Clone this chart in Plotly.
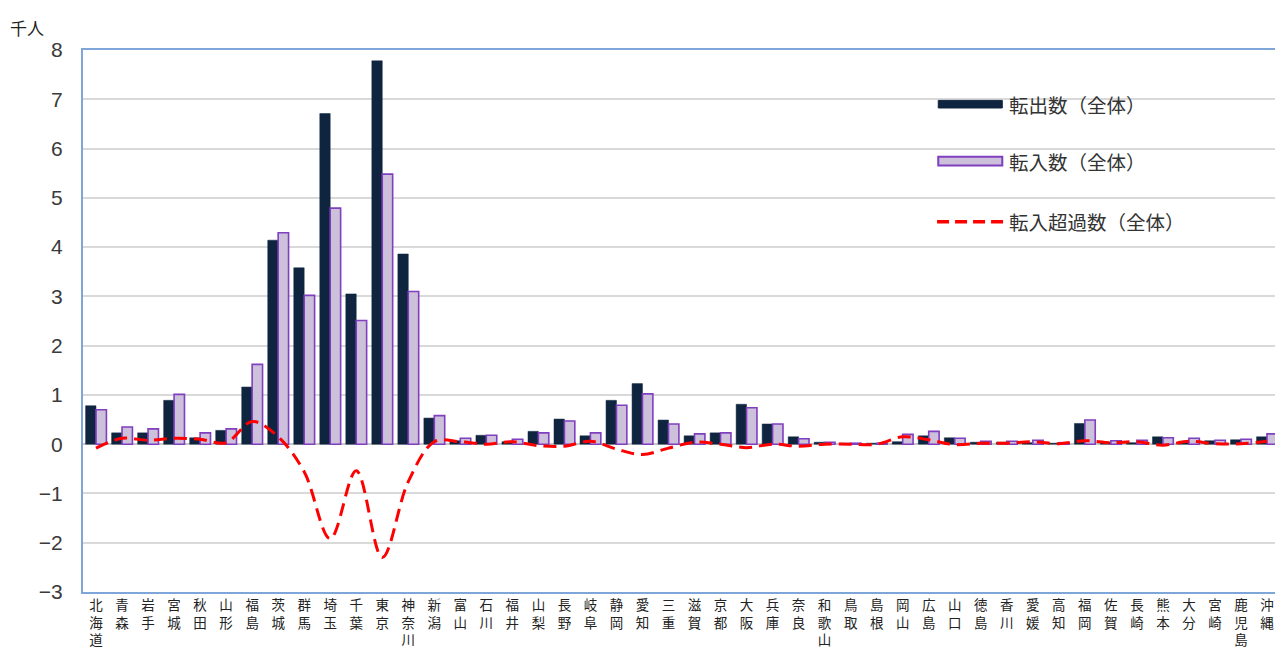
import plotly.graph_objects as go

# prefectures (栃木 excluded), values in thousand persons
prefs = [
    "北海道", "青森", "岩手", "宮城", "秋田", "山形", "福島", "茨城", "群馬", "埼玉",
    "千葉", "東京", "神奈川", "新潟", "富山", "石川", "福井", "山梨", "長野", "岐阜",
    "静岡", "愛知", "三重", "滋賀", "京都", "大阪", "兵庫", "奈良", "和歌山", "鳥取",
    "島根", "岡山", "広島", "山口", "徳島", "香川", "愛媛", "高知", "福岡", "佐賀",
    "長崎", "熊本", "大分", "宮崎", "鹿児島", "沖縄",
]
moved_out = [
    0.78, 0.23, 0.23, 0.89, 0.13, 0.28, 1.16, 4.14, 3.58, 6.71,
    3.05, 7.78, 3.86, 0.53, 0.07, 0.18, 0.05, 0.26, 0.51, 0.17,
    0.89, 1.23, 0.49, 0.17, 0.23, 0.81, 0.41, 0.15, 0.04, 0.02,
    0.02, 0.05, 0.17, 0.13, 0.04, 0.04, 0.03, 0.02, 0.42, 0.04,
    0.03, 0.15, 0.06, 0.07, 0.09, 0.15,
]
moved_in = [
    0.70, 0.35, 0.31, 1.01, 0.23, 0.31, 1.62, 4.29, 3.02, 4.79,
    2.51, 5.48, 3.10, 0.58, 0.12, 0.18, 0.10, 0.23, 0.47, 0.23,
    0.79, 1.02, 0.41, 0.21, 0.23, 0.74, 0.41, 0.11, 0.04, 0.02,
    0.02, 0.20, 0.26, 0.12, 0.06, 0.06, 0.08, 0.03, 0.49, 0.07,
    0.08, 0.13, 0.12, 0.08, 0.10, 0.21,
]
net_in = [
    -0.08, 0.12, 0.08, 0.12, 0.10, 0.03, 0.46, 0.15, -0.56, -1.92,
    -0.54, -2.30, -0.76, 0.05, 0.05, 0.00, 0.05, -0.03, -0.04, 0.06,
    -0.10, -0.21, -0.08, 0.04, 0.00, -0.07, 0.00, -0.04, 0.00, 0.00,
    0.00, 0.15, 0.09, -0.01, 0.02, 0.02, 0.05, 0.01, 0.07, 0.03,
    0.05, -0.02, 0.06, 0.01, 0.01, 0.06,
]
tick_text = ["<br>".join(p) for p in prefs]

NAVY = "#0F243E"
LAV = "#CCC0DA"
PURPLE = "#7F3FBF"
RED = "#FF0000"
FONT = "Noto Sans CJK JP"

fig = go.Figure()
fig.add_trace(go.Bar(x=prefs, y=moved_out, name="転出数（全体）",
                     marker=dict(color=NAVY, line=dict(color=NAVY, width=0.5))))
fig.add_trace(go.Bar(x=prefs, y=moved_in, name="転入数（全体）",
                     marker=dict(color=LAV, line=dict(color=PURPLE, width=1.6))))
fig.add_trace(go.Scatter(x=prefs, y=net_in, name="転入超過数（全体）", mode="lines",
                         line=dict(color=RED, width=3, dash="13px,7px",
                                   shape="spline", smoothing=1)))

# legend drawn by hand to get the long Excel-style keys
legend_items = [
    ("転出数（全体）", 0.900),
    ("転入数（全体）", 0.795),
    ("転入超過数（全体）", 0.683),
]
x0, x1 = 0.7145, 0.768
fig.add_shape(type="rect", xref="paper", yref="paper", x0=x0, x1=x1,
              y0=legend_items[0][1] - 0.007, y1=legend_items[0][1] + 0.007,
              fillcolor=NAVY, line=dict(color=NAVY, width=1))
fig.add_shape(type="rect", xref="paper", yref="paper", x0=x0, x1=x1,
              y0=legend_items[1][1] - 0.008, y1=legend_items[1][1] + 0.008,
              fillcolor=LAV, line=dict(color=PURPLE, width=2))
fig.add_shape(type="line", xref="paper", yref="paper", x0=x0 - 0.001, x1=x1 + 0.001,
              y0=legend_items[2][1], y1=legend_items[2][1],
              line=dict(color=RED, width=3.5, dash="12px,6px"))
for text, yy in legend_items:
    fig.add_annotation(text=text, xref="paper", yref="paper", x=x1 + 0.004, y=yy,
                       xanchor="left", yanchor="middle", showarrow=False,
                       font=dict(family=FONT, size=19.5, color="#333333"))

fig.add_annotation(text="千人", xref="paper", yref="paper", x=-0.063, y=1.041,
                   xanchor="left", yanchor="middle", showarrow=False,
                   font=dict(family=FONT, size=17, color="#222222"))

# page body has an 8px margin, so the figure is 8px smaller than the window
fig.update_layout(
    width=1275, height=653,
    barmode="group", bargap=0.2, bargroupgap=0.0,
    showlegend=False,
    paper_bgcolor="white", plot_bgcolor="white",
    margin=dict(l=75, r=3, t=42, b=69),
    font=dict(family=FONT, color="#222222"),
    xaxis=dict(
        type="category", tickmode="array", tickvals=prefs, ticktext=tick_text,
        range=[-0.5, len(prefs) - 0.5], showgrid=False, ticks="",
        tickfont=dict(family=FONT, size=13.5, color="#222222"),
        showline=True, mirror=True, linecolor="#7FA6D8", linewidth=2,
        tickangle=0, automargin=False,
    ),
    yaxis=dict(
        range=[-3, 8], dtick=1, showgrid=True, gridcolor="#D9D9D9", gridwidth=2,
        zeroline=True, zerolinecolor="#C8C8C8", zerolinewidth=2,
        tickfont=dict(family="Liberation Sans", size=21, color="#3A3A3A"),
        showline=True, mirror=True, linecolor="#7FA6D8", linewidth=2,
        ticks="", ticklabelstandoff=14, automargin=False,
    ),
)

fig.write_html("out.html")
